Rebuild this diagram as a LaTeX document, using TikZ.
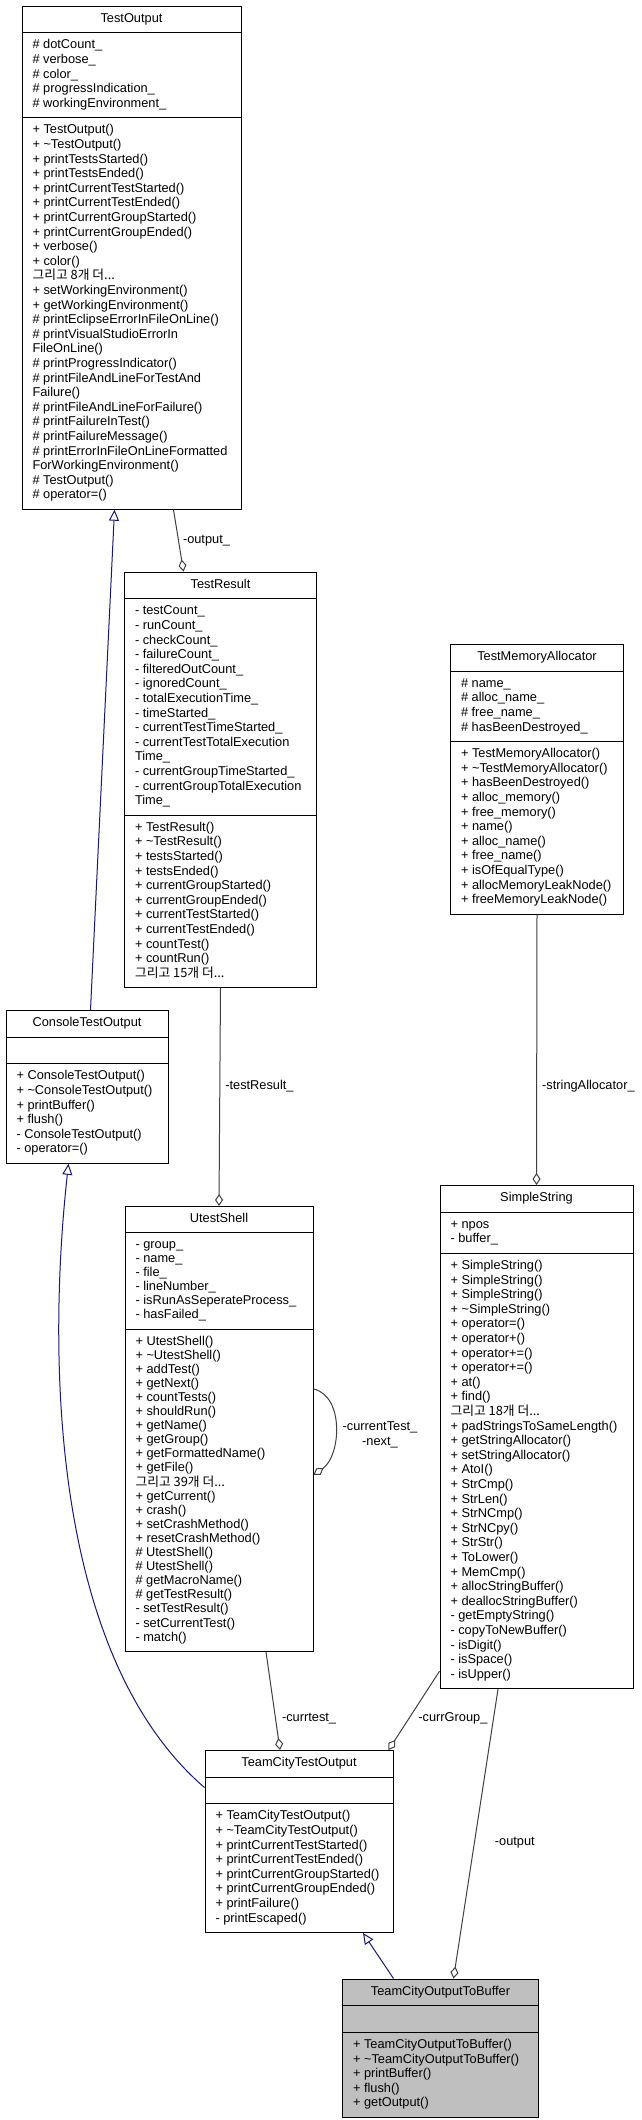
\documentclass[tikz,border=0pt]{standalone}
\usepackage{fontspec}
\setmainfont{Liberation Sans}
\newfontfamily\krfont{Noto Sans CJK KR}
\usetikzlibrary{shapes.multipart, arrows.meta}
\definecolor{edgegray}{HTML}{404040}
\definecolor{inhblue}{HTML}{191970}
\definecolor{focusgray}{HTML}{BFBFBF}
\newcommand{\more}[1]{\smash{\krfont 그리고 #1개 더...}\strut}

\begin{document}
\begin{tikzpicture}[
		x=1pt, y=-1pt,
		umlclass/.style={rectangle split, rectangle split parts=3, draw, line width=1pt,
			rectangle split part align={center, left, left},
			anchor=north west, align=left, inner xsep=10.5pt, inner ysep=5.5pt,
			font=\fontsize{12.8}{14.6}\selectfont},
		aggr/.style={draw=edgegray, line width=1pt, -{Diamond[open, length=12pt, width=8pt]}},
		inherit/.style={draw=inhblue, line width=1pt, -{Triangle[open, length=11pt, width=10pt]}},
		lbl/.style={font=\fontsize{12.8}{14.6}\selectfont, inner sep=1pt, anchor=west}]
	\useasboundingbox (0,0) rectangle (641,2120);

	\node[umlclass, minimum width=219pt] (testoutput) at (21.5,5.5) {\strut TestOutput
		\nodepart{two}\strut\#~dotCount\_\\ \#~verbose\_\\ \#~color\_\\ \#~progressIndication\_\\ \#~workingEnvironment\_\strut
		\nodepart{three}\strut+~TestOutput()\\ +~\textasciitilde TestOutput()\\ +~printTestsStarted()\\ +~printTestsEnded()\\
		+~printCurrentTestStarted()\\ +~printCurrentTestEnded()\\ +~printCurrentGroupStarted()\\ +~printCurrentGroupEnded()\\
		+~verbose()\\ +~color()\\ \more{8}\\ +~setWorkingEnvironment()\\ +~getWorkingEnvironment()\\
		\#~printEclipseErrorInFileOnLine()\\ \#~printVisualStudioErrorIn\\ FileOnLine()\\ \#~printProgressIndicator()\\
		\#~printFileAndLineForTestAnd\\ Failure()\\ \#~printFileAndLineForFailure()\\ \#~printFailureInTest()\\
		\#~printFailureMessage()\\ \#~printErrorInFileOnLineFormatted\\ ForWorkingEnvironment()\\ \#~TestOutput()\\ \#~operator=()\strut};

	\node[umlclass, minimum width=192pt] (testresult) at (124,571.5) {\strut TestResult
		\nodepart{two}\strut-~testCount\_\\ -~runCount\_\\ -~checkCount\_\\ -~failureCount\_\\ -~filteredOutCount\_\\
		-~ignoredCount\_\\ -~totalExecutionTime\_\\ -~timeStarted\_\\ -~currentTestTimeStarted\_\\ -~currentTestTotalExecution\\
		Time\_\\ -~currentGroupTimeStarted\_\\ -~currentGroupTotalExecution\\ Time\_\strut
		\nodepart{three}\strut+~TestResult()\\ +~\textasciitilde TestResult()\\ +~testsStarted()\\ +~testsEnded()\\
		+~currentGroupStarted()\\ +~currentGroupEnded()\\ +~currentTestStarted()\\ +~currentTestEnded()\\
		+~countTest()\\ +~countRun()\\ \more{15}\strut};

	\node[umlclass, minimum width=173pt] (memalloc) at (450,644) {\strut TestMemoryAllocator
		\nodepart{two}\strut\#~name\_\\ \#~alloc\_name\_\\ \#~free\_name\_\\ \#~hasBeenDestroyed\_\strut
		\nodepart{three}\strut+~TestMemoryAllocator()\\ +~\textasciitilde TestMemoryAllocator()\\ +~hasBeenDestroyed()\\
		+~alloc\_memory()\\ +~free\_memory()\\ +~name()\\ +~alloc\_name()\\ +~free\_name()\\ +~isOfEqualType()\\
		+~allocMemoryLeakNode()\\ +~freeMemoryLeakNode()\strut};

	\node[umlclass, minimum width=162pt] (console) at (5.5,1010) {\strut ConsoleTestOutput
		\nodepart{two}\strut
		\nodepart{three}\strut+~ConsoleTestOutput()\\ +~\textasciitilde ConsoleTestOutput()\\ +~printBuffer()\\ +~flush()\\
		-~ConsoleTestOutput()\\ -~operator=()\strut};

	\node[umlclass, minimum width=188pt, font=\fontsize{12.8}{14.1}\selectfont] (utestshell) at (124.5,1206) {\strut UtestShell
		\nodepart{two}\strut-~group\_\\ -~name\_\\ -~file\_\\ -~lineNumber\_\\ -~isRunAsSeperateProcess\_\\ -~hasFailed\_\strut
		\nodepart{three}\strut+~UtestShell()\\ +~\textasciitilde UtestShell()\\ +~addTest()\\ +~getNext()\\ +~countTests()\\
		+~shouldRun()\\ +~getName()\\ +~getGroup()\\ +~getFormattedName()\\ +~getFile()\\ \more{39}\\ +~getCurrent()\\
		+~crash()\\ +~setCrashMethod()\\ +~resetCrashMethod()\\ \#~UtestShell()\\ \#~UtestShell()\\ \#~getMacroName()\\
		\#~getTestResult()\\ -~setTestResult()\\ -~setCurrentTest()\\ -~match()\strut};

	\node[umlclass, minimum width=193pt] (simplestring) at (439.5,1185) {\strut SimpleString
		\nodepart{two}\strut+~npos\\ -~buffer\_\strut
		\nodepart{three}\strut+~SimpleString()\\ +~SimpleString()\\ +~SimpleString()\\ +~\textasciitilde SimpleString()\\
		+~operator=()\\ +~operator+()\\ +~operator+=()\\ +~operator+=()\\ +~at()\\ +~find()\\ \more{18}\\
		+~padStringsToSameLength()\\ +~getStringAllocator()\\ +~setStringAllocator()\\ +~AtoI()\\ +~StrCmp()\\
		+~StrLen()\\ +~StrNCmp()\\ +~StrNCpy()\\ +~StrStr()\\ +~ToLower()\\ +~MemCmp()\\ +~allocStringBuffer()\\
		+~deallocStringBuffer()\\ -~getEmptyString()\\ -~copyToNewBuffer()\\ -~isDigit()\\ -~isSpace()\\ -~isUpper()\strut};

	\node[umlclass, minimum width=188pt] (teamcity) at (204.5,1750) {\strut TeamCityTestOutput
		\nodepart{two}\strut
		\nodepart{three}\strut+~TeamCityTestOutput()\\ +~\textasciitilde TeamCityTestOutput()\\ +~printCurrentTestStarted()\\
		+~printCurrentTestEnded()\\ +~printCurrentGroupStarted()\\ +~printCurrentGroupEnded()\\ +~printFailure()\\
		-~printEscaped()\strut};

	\node[umlclass, minimum width=196pt, fill=focusgray] (tobuffer) at (342,1978.5) {\strut TeamCityOutputToBuffer
		\nodepart{two}\strut
		\nodepart{three}\strut+~TeamCityOutputToBuffer()\\ +~\textasciitilde TeamCityOutputToBuffer()\\ +~printBuffer()\\
		+~flush()\\ +~getOutput()\strut};

	% inheritance
	\draw[inherit] ([xshift=3.5pt]console.north) -- ([xshift=-17pt]testoutput.south);
	\draw[inherit] ([yshift=54pt]teamcity.west) .. controls (52,1656) and (47,1359) .. ([xshift=-18.5pt]console.south);
	\draw[inherit] ([xshift=-47pt]tobuffer.north) -- ([xshift=64pt]teamcity.south);

	% members
	\draw[aggr] ([xshift=42pt]testoutput.south) -- node[lbl, xshift=3pt]{-output\_} ([xshift=-37pt]testresult.north);
	\draw[aggr] (testresult.south) -- node[lbl, pos=0.45, xshift=4pt]{-testResult\_} (utestshell.north);
	\draw[aggr] ([yshift=40pt]utestshell.east) .. controls (344.6,1396) and (341,1456) .. ([yshift=-46pt]utestshell.east);
	\node[lbl, align=center, anchor=center] (selflbl) at (380,1435) {-currentTest\_\\-next\_};
	\draw[aggr] ([xshift=47pt]utestshell.south) -- node[lbl, pos=0.68, xshift=5pt]{-currtest\_} ([xshift=-19pt]teamcity.north);
	\draw[aggr] ([yshift=18pt]simplestring.south west) -- node[lbl, pos=0.6, xshift=8pt]{-currGroup\_} ([xshift=-5pt]teamcity.north east);
	\draw[aggr] (memalloc.south) -- node[lbl, pos=0.635, xshift=4pt]{-stringAllocator\_} (simplestring.north);
	\draw[aggr] ([xshift=-38.5pt]simplestring.south) -- node[lbl, pos=0.53, xshift=19pt]{-output} ([xshift=13pt]tobuffer.north);
\end{tikzpicture}
\end{document}
